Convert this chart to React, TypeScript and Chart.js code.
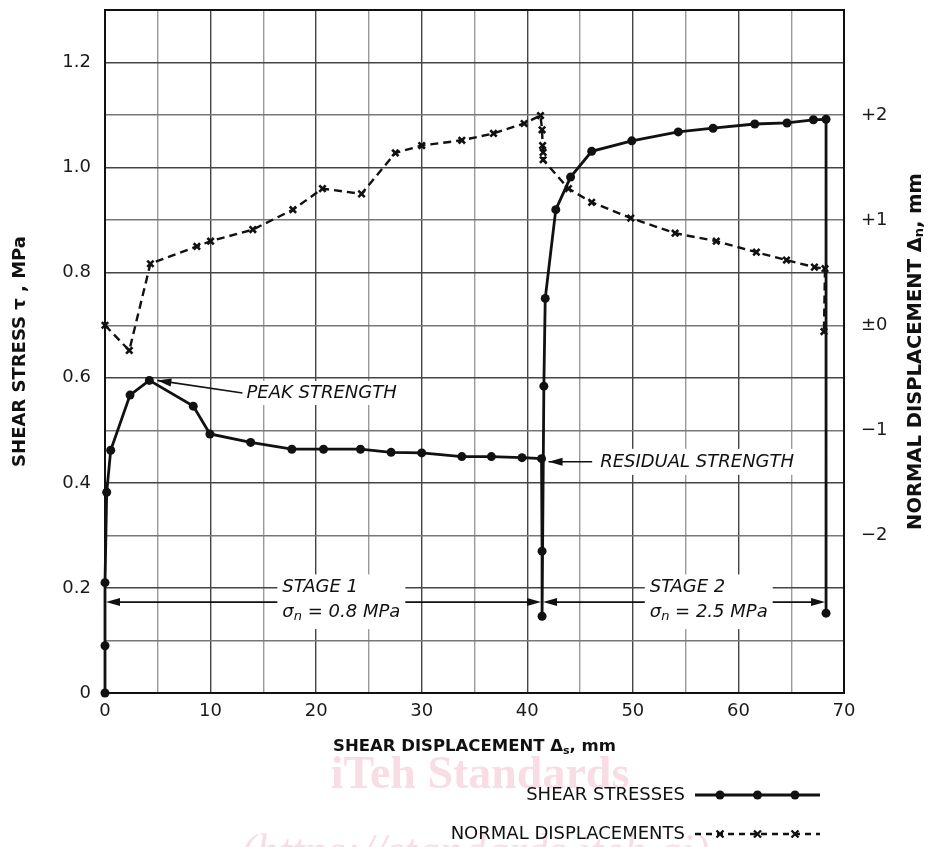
import React, { useEffect, useRef } from 'react';
import { Chart, registerables } from 'chart.js';

Chart.register(...registerables);

// ---------------- data ----------------
const shearDisp = [0, 0, 0, 0.16, 0.54, 2.37, 4.2, 8.36, 9.94, 13.8, 17.7, 20.7, 24.2, 27.1, 30.0, 33.8, 36.6, 39.5, 41.35, 41.4, 41.4, 41.57, 41.7, 42.7, 44.1, 46.1, 49.9, 54.3, 57.6, 61.55, 64.6, 67.1, 68.3, 68.3];
const shearStress = [0, 0.09, 0.21, 0.382, 0.462, 0.567, 0.595, 0.546, 0.493, 0.477, 0.464, 0.464, 0.464, 0.458, 0.457, 0.45, 0.45, 0.448, 0.446, 0.27, 0.146, 0.584, 0.751, 0.92, 0.982, 1.031, 1.051, 1.068, 1.075, 1.083, 1.085, 1.091, 1.092, 0.152];

const normalShearDisp = [0, 2.3, 4.3, 8.7, 10.0, 14.0, 17.8, 20.6, 24.3, 27.5, 30.0, 33.8, 36.8, 39.7, 41.25, 41.4, 41.45, 41.5, 41.5, 43.9, 46.1, 49.8, 54.0, 57.9, 61.7, 64.55, 67.2, 68.2, 68.1];
const normalDisp = [0, -0.24, 0.585, 0.75, 0.8, 0.91, 1.1, 1.3, 1.25, 1.64, 1.71, 1.76, 1.825, 1.92, 1.995, 1.86, 1.71, 1.645, 1.575, 1.3, 1.17, 1.02, 0.876, 0.8, 0.695, 0.62, 0.553, 0.538, -0.06];

const xLabelValues = [0, 10, 20, 30, 40, 50, 60, 70];
const leftLabelValues = [0, 0.2, 0.4, 0.6, 0.8, 1.0, 1.2];
const rightLabelValues = [-2, -1, 0, 1, 2];

const stageEnds = [0, 41.4, 68.3];
const stageNormalStress = ['0.8', '2.5'];

const FONT = '"DejaVu Sans", Verdana, sans-serif';

type Part = { t: string; sub?: boolean };

function partsWidth(ctx: CanvasRenderingContext2D, parts: Part[], font: string, subFont: string) {
  let w = 0;
  for (const p of parts) {
    ctx.font = p.sub ? subFont : font;
    w += ctx.measureText(p.t).width;
  }
  return w;
}

function drawParts(ctx: CanvasRenderingContext2D, parts: Part[], x: number, y: number, font: string, subFont: string, subDy: number, align: 'left' | 'center' | 'right') {
  const w = partsWidth(ctx, parts, font, subFont);
  let cx = align === 'left' ? x : align === 'center' ? x - w / 2 : x - w;
  ctx.textAlign = 'left';
  ctx.textBaseline = 'middle';
  for (const p of parts) {
    ctx.font = p.sub ? subFont : font;
    ctx.fillText(p.t, cx, p.sub ? y + subDy : y);
    cx += ctx.measureText(p.t).width;
  }
  return w;
}

function arrowHead(ctx: CanvasRenderingContext2D, x1: number, y1: number, x2: number, y2: number) {
  const a = Math.atan2(y2 - y1, x2 - x1);
  const len = 14, hw = 4;
  ctx.beginPath();
  ctx.moveTo(x2, y2);
  ctx.lineTo(x2 - len * Math.cos(a) + hw * Math.sin(a), y2 - len * Math.sin(a) - hw * Math.cos(a));
  ctx.lineTo(x2 - len * Math.cos(a) - hw * Math.sin(a), y2 - len * Math.sin(a) + hw * Math.cos(a));
  ctx.closePath();
  ctx.fill();
}

function arrow(ctx: CanvasRenderingContext2D, x1: number, y1: number, x2: number, y2: number) {
  ctx.beginPath();
  ctx.moveTo(x1, y1);
  ctx.lineTo(x2, y2);
  ctx.stroke();
  arrowHead(ctx, x1, y1, x2, y2);
}

function xMark(ctx: CanvasRenderingContext2D, x: number, y: number, r: number) {
  ctx.beginPath();
  ctx.moveTo(x - r, y - r);
  ctx.lineTo(x + r, y + r);
  ctx.moveTo(x + r, y - r);
  ctx.lineTo(x - r, y + r);
  ctx.stroke();
}

const ANN_FONT = `italic 18px ${FONT}`;
const ANN_SUB = `italic 13px ${FONT}`;

function annotationBoxes(chart: any) {
  const { x, y } = chart.scales;
  const peakIdx = shearStress.indexOf(Math.max(...shearStress.slice(0, 18)));
  const resIdx = 18;
  const stageY = y.getPixelForValue(0.173);
  return {
    peak: { x: x.getPixelForValue(shearDisp[peakIdx]) + 8, y: y.getPixelForValue(shearStress[peakIdx]), tx: x.getPixelForValue(13.4), ty: y.getPixelForValue(0.571) },
    res: { x: x.getPixelForValue(shearDisp[resIdx]) + 7, y: y.getPixelForValue(shearStress[resIdx]) + 3, tx: x.getPixelForValue(46.9), ty: y.getPixelForValue(0.44) },
    stages: [0, 1].map((i) => ({
      x1: x.getPixelForValue(stageEnds[i]),
      x2: x.getPixelForValue(stageEnds[i + 1]),
      y: stageY,
      tx: x.getPixelForValue(i === 0 ? 16.8 : 51.6),
      ty1: y.getPixelForValue(0.201),
      ty2: y.getPixelForValue(0.154),
    })),
  };
}

const customPlugin = {
  id: 'custom',
  beforeDraw(chart: any) {
    const ctx = chart.ctx as CanvasRenderingContext2D;
    ctx.save();
    ctx.fillStyle = '#ffffff';
    ctx.fillRect(0, 0, chart.width, chart.height);
    ctx.fillStyle = 'rgba(232,150,170,0.32)';
    ctx.font = 'bold 46px "Liberation Serif", serif';
    ctx.textAlign = 'center';
    ctx.textBaseline = 'alphabetic';
    ctx.fillText('iTeh Standards', 480, 788);
    ctx.font = 'italic 46px "Liberation Serif", serif';
    ctx.fillText('(https://standards.iteh.ai)', 475, 866);
    ctx.restore();
  },
  beforeDatasetsDraw(chart: any) {
    const ctx = chart.ctx as CanvasRenderingContext2D;
    const ca = chart.chartArea;
    const b = annotationBoxes(chart);
    ctx.save();
    ctx.fillStyle = '#ffffff';
    ctx.font = ANN_FONT;
    const pw = ctx.measureText('PEAK STRENGTH').width;
    ctx.fillRect(b.peak.tx - 4, b.peak.ty - 12, pw + 8, 24);
    const rw = ctx.measureText('RESIDUAL STRENGTH').width;
    ctx.fillRect(b.res.tx - 4, b.res.ty - 13, rw + 8, 26);
    b.stages.forEach((s: any, i: number) => {
      const w = partsWidth(ctx, [{ t: 'σ' }, { t: 'n', sub: true }, { t: ` = ${stageNormalStress[i]} MPa` }], ANN_FONT, ANN_SUB);
      ctx.fillRect(s.tx - 5, s.ty1 - 13, w + 10, s.ty2 - s.ty1 + 30);
    });
    // frame
    ctx.strokeStyle = '#111';
    ctx.lineWidth = 2;
    ctx.strokeRect(ca.left, ca.top, ca.right - ca.left, ca.bottom - ca.top);
    ctx.restore();
  },
  afterDatasetsDraw(chart: any) {
    const ctx = chart.ctx as CanvasRenderingContext2D;
    const ca = chart.chartArea;
    const b = annotationBoxes(chart);
    ctx.save();
    ctx.fillStyle = '#111';
    ctx.strokeStyle = '#111';
    ctx.lineWidth = 1.6;
    // peak
    arrow(ctx, b.peak.tx - 4, b.peak.ty, b.peak.x, b.peak.y);
    ctx.font = ANN_FONT;
    ctx.textAlign = 'left';
    ctx.textBaseline = 'middle';
    ctx.fillText('PEAK STRENGTH', b.peak.tx, b.peak.ty);
    // residual
    arrow(ctx, b.res.tx - 8, b.res.y, b.res.x, b.res.y);
    ctx.fillText('RESIDUAL STRENGTH', b.res.tx, b.res.ty);
    // stages
    b.stages.forEach((s: any, i: number) => {
      const w = partsWidth(ctx, [{ t: 'σ' }, { t: 'n', sub: true }, { t: ` = ${stageNormalStress[i]} MPa` }], ANN_FONT, ANN_SUB);
      const gapL = s.tx - 5;
      const gapR = s.tx + w + 5;
      const a1 = s.x1 + 1;
      const a2 = s.x2 - 1;
      ctx.beginPath();
      ctx.moveTo(gapL, s.y);
      ctx.lineTo(a1 + 5, s.y);
      ctx.moveTo(gapR, s.y);
      ctx.lineTo(a2 - 5, s.y);
      ctx.stroke();
      arrowHead(ctx, a1 + 20, s.y, a1, s.y);
      arrowHead(ctx, a2 - 20, s.y, a2, s.y);
      ctx.font = ANN_FONT;
      ctx.textAlign = 'left';
      ctx.fillText(`STAGE ${i + 1}`, s.tx, s.ty1);
      drawParts(ctx, [{ t: 'σ' }, { t: 'n', sub: true }, { t: ` = ${stageNormalStress[i]} MPa` }], s.tx, s.ty2, ANN_FONT, ANN_SUB, 5, 'left');
    });

    // axis titles
    ctx.fillStyle = '#111';
    drawParts(ctx, [{ t: 'SHEAR DISPLACEMENT Δ' }, { t: 's', sub: true }, { t: ', mm' }], (ca.left + ca.right) / 2, ca.bottom + 54, `bold 16.5px ${FONT}`, `bold 11px ${FONT}`, 4, 'center');
    ctx.save();
    ctx.translate(20, (ca.top + ca.bottom) / 2);
    ctx.rotate(-Math.PI / 2);
    drawParts(ctx, [{ t: 'SHEAR STRESS τ , MPa' }], 0, 0, `bold 18px ${FONT}`, `bold 12px ${FONT}`, 4, 'center');
    ctx.restore();
    ctx.save();
    ctx.translate(916, (ca.top + ca.bottom) / 2);
    ctx.rotate(-Math.PI / 2);
    drawParts(ctx, [{ t: 'NORMAL DISPLACEMENT Δ' }, { t: 'n', sub: true }, { t: ', mm' }], 0, 0, `bold 19.5px ${FONT}`, `bold 13px ${FONT}`, 4, 'center');
    ctx.restore();

    // legend
    const LF = `18px ${FONT}`;
    const lx0 = 695, lx1 = 820, ly1 = 795, ly2 = 834;
    const marks = [0.2, 0.5, 0.8].map((f) => lx0 + f * (lx1 - lx0));
    ctx.font = LF;
    ctx.textAlign = 'right';
    ctx.textBaseline = 'middle';
    ctx.fillText('SHEAR STRESSES', lx0 - 10, ly1);
    ctx.fillText('NORMAL DISPLACEMENTS', lx0 - 10, ly2);
    ctx.lineWidth = 2.8;
    ctx.beginPath();
    ctx.moveTo(lx0, ly1);
    ctx.lineTo(lx1, ly1);
    ctx.stroke();
    marks.forEach((m) => {
      ctx.beginPath();
      ctx.arc(m, ly1, 4.5, 0, Math.PI * 2);
      ctx.fill();
    });
    ctx.lineWidth = 2.4;
    ctx.setLineDash([6, 5]);
    ctx.beginPath();
    ctx.moveTo(lx0, ly2);
    ctx.lineTo(lx1, ly2);
    ctx.stroke();
    ctx.setLineDash([]);
    marks.forEach((m) => xMark(ctx, m, ly2, 3.5));
    ctx.restore();
  },
};

export default function App() {
  const ref = useRef<HTMLCanvasElement>(null);
  useEffect(() => {
    const canvas = ref.current;
    if (!canvas) return;
    const chart = new Chart(canvas, {
      type: 'line',
      data: {
        datasets: [
          {
            label: 'SHEAR STRESSES',
            data: shearDisp.map((v, i) => ({ x: v, y: shearStress[i] })),
            yAxisID: 'y',
            borderColor: '#111',
            backgroundColor: '#111',
            borderWidth: 2.8,
            pointRadius: 4.5,
            pointBackgroundColor: '#111',
            pointBorderWidth: 0,
            tension: 0,
            clip: false,
          } as any,
          {
            label: 'NORMAL DISPLACEMENTS',
            data: normalShearDisp.map((v, i) => ({ x: v, y: normalDisp[i] })),
            yAxisID: 'y2',
            borderColor: '#111',
            backgroundColor: '#111',
            borderWidth: 2.4,
            borderDash: [8, 5],
            pointStyle: 'crossRot',
            pointRadius: 4.5,
            pointBorderWidth: 2.6,
            tension: 0,
            clip: false,
          } as any,
        ],
      },
      options: {
        responsive: false,
        animation: false,
        devicePixelRatio: 1,
        layout: { padding: { top: 10, left: 0, right: 0, bottom: 0 } },
        plugins: { legend: { display: false }, tooltip: { enabled: false } },
        scales: {
          x: {
            type: 'linear',
            position: 'bottom',
            min: 0,
            max: 70,
            ticks: {
              stepSize: 5,
              autoSkip: false,
              maxRotation: 0,
              padding: 8,
              color: '#1a1a1a',
              font: { family: FONT, size: 18 },
              callback: (v: any) => (xLabelValues.includes(Number(v)) ? String(v) : ''),
            },
            grid: {
              drawTicks: false,
              color: (c: any) => (c.tick && c.tick.value % 10 === 0 ? '#444' : '#9a9a9a'),
              lineWidth: 1.4,
            },
            border: { display: true, color: '#111', width: 2 },
            afterFit: (s: any) => { s.height = 154; s.paddingLeft = 0; s.paddingRight = 0; },
          },
          y: {
            type: 'linear',
            position: 'left',
            min: 0,
            max: 1.3,
            ticks: {
              stepSize: 0.1,
              autoSkip: false,
              padding: 14,
              color: '#1a1a1a',
              font: { family: FONT, size: 18 },
              callback: (v: any) => {
                const n = Math.round(Number(v) * 10) / 10;
                if (!leftLabelValues.some((l) => Math.abs(l - n) < 1e-6)) return '';
                return n === 0 ? '0' : n.toFixed(1);
              },
            },
            grid: {
              drawTicks: false,
              color: (c: any) => (c.tick && Math.round(c.tick.value * 10) % 2 === 0 ? '#444' : '#777'),
              lineWidth: 1.4,
            },
            border: { display: true, color: '#111', width: 2 },
            afterFit: (s: any) => { s.width = 105; s.paddingTop = 0; s.paddingBottom = 0; },
          },
          y2: {
            type: 'linear',
            position: 'right',
            min: -3.5,
            max: 3,
            ticks: {
              stepSize: 1,
              autoSkip: false,
              padding: 17,
              color: '#1a1a1a',
              font: { family: FONT, size: 18 },
              callback: (v: any) => {
                const n = Number(v);
                if (!rightLabelValues.includes(n)) return '';
                return n > 0 ? `+${n}` : n === 0 ? '±0' : `−${Math.abs(n)}`;
              },
            },
            grid: { display: false, drawTicks: false },
            border: { display: false },
            afterFit: (s: any) => { s.width = 89; s.paddingTop = 0; s.paddingBottom = 0; },
          },
        },
      } as any,
      plugins: [customPlugin],
    });
    return () => chart.destroy();
  }, []);
  return (
    <div style={{ position: 'fixed', left: 0, top: 0, width: 933, height: 847, background: '#fff' }}>
      <canvas ref={ref} width={933} height={847} style={{ display: 'block', width: 933, height: 847 }} />
    </div>
  );
}
